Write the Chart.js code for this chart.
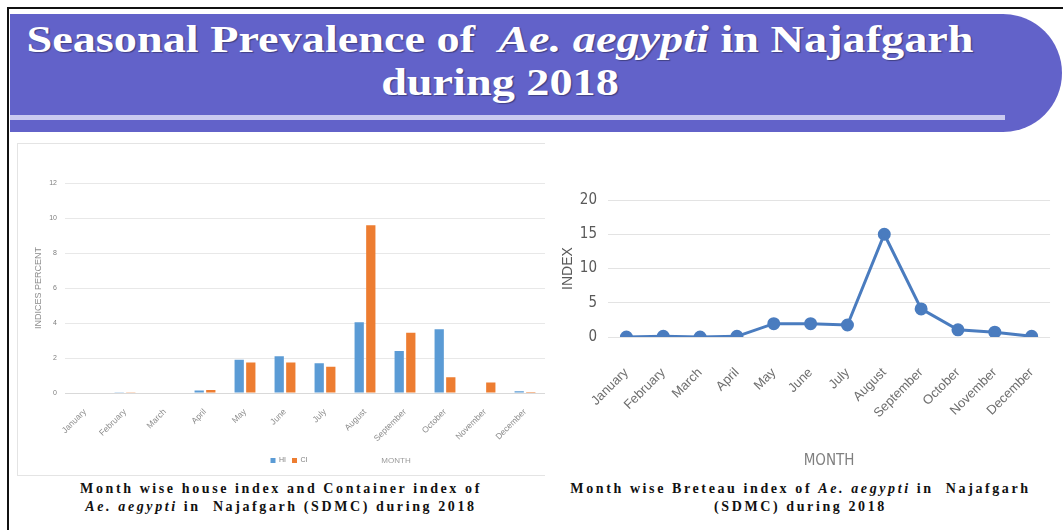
<!DOCTYPE html>
<html>
<head>
<meta charset="utf-8">
<title>Seasonal Prevalence of Ae. aegypti in Najafgarh during 2018</title>
<script src="https://cdn.jsdelivr.net/npm/chart.js@4.4.1/dist/chart.umd.min.js"></script>
<style>
  body { margin: 0; width: 1063px; height: 530px; overflow: hidden; background: #fff; position: relative; font-family: "Liberation Serif", "Times New Roman", serif; }
  #frame { position: absolute; left: 7px; top: 7px; width: 1080px; height: 540px; border-left: 2px solid #111; border-top: 2px solid #111; }
  #banner { position: absolute; left: 10px; top: 14px; width: 1052px; height: 118px; background: #6262c9; border-radius: 0 62px 62px 0; }
  #stripe { position: absolute; left: 10px; top: 115px; width: 995px; height: 5px; background: #cacaf0; }
  .tline { position: absolute; left: 0; width: 1000px; text-align: center; color: #fff; font-weight: bold; font-size: 37px; line-height: 37px; transform: scaleX(1.25); transform-origin: 500px 0; text-shadow: 1px 1px 1px rgba(0,0,0,0.35); white-space: nowrap; }
  #leftBox { position: absolute; left: 17px; top: 143px; width: 527px; height: 331px; border: 1px solid #e4e4e4; border-right: none; }
  .wrap { position: absolute; }
  .caption { position: absolute; text-align: center; font-weight: bold; font-size: 14px; line-height: 18px; letter-spacing: 2.6px; color: #111; white-space: nowrap; }
</style>
</head>
<body>
<div id="frame"></div>
<div id="banner"></div>
<div id="stripe"></div>
<div class="tline" style="top:21px">Seasonal Prevalence of&nbsp; <i>Ae. aegypti</i> in Najafgarh</div>
<div class="tline" style="top:64px">during 2018</div>

<div id="leftBox"></div>
<div class="wrap" style="left:33px; top:171px; width:512px; height:307px;"><canvas id="hiCiChart"></canvas></div>
<div class="wrap" style="left:560px; top:180px; width:503px; height:298px;"><canvas id="biChart"></canvas></div>

<div class="caption" style="left:17px; width:528px; top:480px;">Month wise house index and Container index of<br><i>Ae. aegypti</i> in&nbsp; Najafgarh (SDMC) during 2018</div>
<div class="caption" style="left:548px; width:505px; top:480px;">Month wise Breteau index of <i>Ae. aegypti</i> in&nbsp; Najafgarh<br>(SDMC) during 2018</div>

<script>
const months = ['January', 'February', 'March', 'April', 'May', 'June', 'July', 'August', 'September', 'October', 'November', 'December'];

// house index and container index, percent
const houseIndex = [0, 0.05, 0, 0.15, 1.9, 2.1, 1.7, 4.05, 2.4, 3.65, 0, 0.1];
const containerIndex = [0, 0.04, 0, 0.17, 1.75, 1.75, 1.5, 9.6, 3.45, 0.9, 0.6, 0.06];
const hiCiTicks = [0, 2, 4, 6, 8, 10, 12];

// breteau index
const breteauIndex = [0, 0.1, 0, 0.1, 1.95, 1.95, 1.75, 15.0, 4.1, 1.05, 0.7, 0.1];
const biTicks = [0, 5, 10, 15, 20];

const grey = '#7f7f7f';
const sans = '"Liberation Sans", Arial, sans-serif';
const narrow = '"Liberation Sans Narrow", "DejaVu Sans Condensed", "Liberation Sans", sans-serif';

// "MONTH" sits on the same row as the legend in the bar chart
const monthLabelPlugin = {
    id: 'monthLabel',
    afterDraw(chart, args, opts) {
        const lg = chart.legend;
        if (!lg || !lg.legendHitBoxes.length) return;
        const box = lg.legendHitBoxes[0];
        const ctx = chart.ctx;
        ctx.save();
        ctx.font = '8px ' + sans;
        ctx.fillStyle = '#9a9a9a';
        ctx.textAlign = 'center';
        ctx.textBaseline = 'middle';
        ctx.fillText('MONTH', opts.x, box.top + box.height / 2);
        ctx.restore();
    }
};

new Chart(document.getElementById('hiCiChart'), {
    type: 'bar',
    data: {
        labels: months,
        datasets: [
            { label: 'HI', data: houseIndex, backgroundColor: '#5b9bd5' },
            { label: 'CI', data: containerIndex, backgroundColor: '#ed7d31' }
        ]
    },
    options: {
        responsive: true,
        maintainAspectRatio: false,
        animation: false,
        layout: { padding: { top: 4, right: 0, bottom: 4, left: 0 } },
        datasets: { bar: { categoryPercentage: 0.58, barPercentage: 0.8 } },
        scales: {
            x: {
                grid: { display: false },
                border: { color: '#d9d9d9' },
                ticks: { color: '#8c8c8c', font: { family: sans, size: 8.5 }, minRotation: 45, maxRotation: 45, padding: 6 },
                afterFit: s => { s.height = 58; }
            },
            y: {
                min: 0,
                max: 12,
                afterBuildTicks: s => { s.ticks = hiCiTicks.map(v => ({ value: v })); },
                grid: { color: '#e8e8e8', drawTicks: false },
                border: { display: false },
                ticks: { color: grey, font: { family: sans, size: 7 }, padding: 8 },
                title: { display: true, text: 'INDICES PERCENT', color: '#8c8c8c', font: { family: sans, size: 9 }, padding: 0 },
                afterFit: s => { s.width = 32; }
            }
        },
        plugins: {
            legend: {
                position: 'bottom',
                labels: { boxWidth: 5, boxHeight: 5, padding: 6, color: grey, font: { family: sans, size: 7 } }
            },
            tooltip: { enabled: false },
            monthLabel: { x: 363 }
        }
    },
    plugins: [monthLabelPlugin]
});

new Chart(document.getElementById('biChart'), {
    type: 'line',
    data: {
        labels: months,
        datasets: [{
            label: 'BI',
            data: breteauIndex,
            borderColor: '#4a7cbf',
            backgroundColor: '#4a7cbf',
            borderWidth: 3,
            pointRadius: 5,
            pointBackgroundColor: '#4a7cbf',
            pointBorderColor: '#4a7cbf',
            tension: 0
        }]
    },
    options: {
        responsive: true,
        maintainAspectRatio: false,
        animation: false,
        layout: { padding: { top: 4, right: 0, bottom: 4, left: 0 } },
        scales: {
            x: {
                offset: true,
                grid: { display: false },
                border: { display: false },
                ticks: { color: '#6e6e6e', font: { family: sans, size: 13 }, minRotation: 45, maxRotation: 45, padding: 20 },
                title: { display: true, text: 'MONTH', color: grey, font: { family: narrow, size: 15 }, padding: { top: 4 } },
                afterFit: s => { s.height = 137; }
            },
            y: {
                min: 0,
                max: 20,
                afterBuildTicks: s => { s.ticks = biTicks.map(v => ({ value: v })); },
                grid: { color: '#e3e3e3', drawTicks: false },
                border: { display: false },
                ticks: { color: '#595959', font: { family: narrow, size: 15 }, padding: 11 },
                title: { display: true, text: 'INDEX', color: '#595959', font: { family: sans, size: 14 }, padding: 0 },
                afterFit: s => { s.width = 48; }
            }
        },
        plugins: {
            legend: { display: false },
            tooltip: { enabled: false }
        }
    }
});
</script>
</body>
</html>
